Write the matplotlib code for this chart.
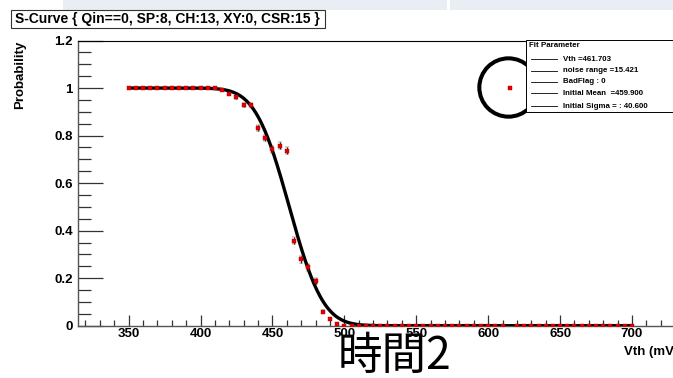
import math
import numpy as np
import matplotlib
matplotlib.use('Agg')
from matplotlib import pyplot as plt
from matplotlib.patches import Rectangle

plt.rcParams['font.family'] = ['Liberation Sans', 'DejaVu Sans']
plt.rcParams['font.weight'] = 'bold'

# threshold scan, 5 mV steps
vth_mv = [350, 355, 360, 365, 370, 375, 380, 385, 390, 395, 400, 405, 410,
          415, 420, 425, 430, 435, 440, 445, 450, 455, 460, 465, 470, 475,
          480, 485, 490, 495, 500, 505, 510, 515, 520, 525, 530, 535, 540,
          545, 550, 555, 560, 565, 570, 575, 580, 585, 590, 595, 600, 605,
          610, 615, 620, 625, 630, 635, 640, 645, 650, 655, 660, 665, 670,
          675, 680, 685, 690, 695, 700]
prob = [1.0] * 13 + [0.99, 0.975, 0.961, 0.928, 0.928, 0.833, 0.791, 0.742,
                     0.757, 0.736, 0.358, 0.279, 0.246, 0.188, 0.059, 0.027,
                     0.007] + [0.0] * 23 + [1.0] + [0.0] * 17
prob_err = [0.003] * 13 + [0.004, 0.005, 0.006, 0.008, 0.008, 0.012, 0.013,
                           0.014, 0.014, 0.014, 0.015, 0.014, 0.014, 0.012,
                           0.007, 0.005, 0.003] + [0.005] * 23 + [0.003] + [0.005] * 17

# fit results
vth_fit = 461.703
noise_range = 15.421
bad_flag = 0
init_mean = 459.900
init_sigma = 40.600

title = 'S-Curve { Qin==0, SP:8, CH:13, XY:0, CSR:15 }'
fit_lines = ['Vth =%.3f' % vth_fit,
             'noise range =%.3f' % noise_range,
             'BadFlag : %d' % bad_flag,
             'Initial Mean  =%.3f' % init_mean,
             'Initial Sigma = : %.3f' % init_sigma]


def main():
    W, H = 673, 378
    fig = plt.figure(figsize=(W / 100, H / 100), dpi=100)
    fig.patch.set_facecolor('white')

    # strip along the top edge
    for x0, x1 in [(63, 446.5), (450, 673)]:
        fig.add_artist(Rectangle((x0 / W, 1 - 10 / H), (x1 - x0) / W, 10 / H,
                                 transform=fig.transFigure, facecolor='#e8eef3',
                                 edgecolor='none'))

    left, right = 78.3, 678.0
    top, bottom = 40.5, 325.7
    ax = fig.add_axes([left / W, 1 - bottom / H, (right - left) / W, (bottom - top) / H])
    ax.set_xlim(315, 732)
    ax.set_ylim(0, 1.2)

    for s in ['top', 'right']:
        ax.spines[s].set_color('black')
        ax.spines[s].set_linewidth(0.8)
    for s in ['left', 'bottom']:
        ax.spines[s].set_color('#555555')
        ax.spines[s].set_linewidth(1.0)

    ax.set_xticks(np.arange(350, 701, 50))
    ax.set_xticks(np.arange(320, 731, 10), minor=True)
    ax.set_yticks(np.arange(0, 1.21, 0.2))
    ax.set_yticks(np.arange(0, 1.21, 0.05), minor=True)
    ax.set_yticklabels(['0', '0.2', '0.4', '0.6', '0.8', '1', '1.2'])
    ax.tick_params(axis='x', which='major', direction='in', length=8, width=0.9,
                   color='#333333', labelsize=9.5, pad=2)
    ax.tick_params(axis='x', which='minor', direction='in', length=4.5, width=0.9,
                   color='#333333')
    ax.tick_params(axis='y', which='major', direction='in', length=18, width=0.9,
                   color='#333333', labelsize=9.5, pad=4)
    ax.tick_params(axis='y', which='minor', direction='in', length=9, width=0.9,
                   color='#333333')
    ax.tick_params(top=False, right=False, which='both')

    # fitted S-curve
    xf = np.linspace(350, 700, 500)
    sigma = 1.2 * noise_range
    yf = [0.5 * math.erfc((v - vth_fit) / (math.sqrt(2) * sigma)) for v in xf]
    ax.plot(xf, yf, color='black', lw=2.4, zorder=3)

    # data points, drawn over the fit
    ax.errorbar(vth_mv, prob, yerr=prob_err, fmt='s', ms=2.2, mfc='#e00000',
                mec='#b00000', mew=0.3, ecolor='#222222', elinewidth=0.8,
                capsize=1.6, capthick=0.8, zorder=4, clip_on=True)

    # the stray point at 615 mV
    ax.plot([613.5], [1.004], marker='o', ms=42, mfc='none', mec='black', mew=2.9,
            zorder=5, clip_on=False)

    # fit parameter box
    bx0 = (526 - left) / (right - left)
    by0 = (bottom - 112.3) / (bottom - top)
    ax.add_patch(Rectangle((bx0, by0), 1.2 - bx0, 1 - by0, transform=ax.transAxes,
                           facecolor='white', edgecolor='black', lw=0.7,
                           zorder=6, clip_on=False))
    ax.text((529 - left) / (right - left), (bottom - 45.5) / (bottom - top),
            'Fit Parameter', transform=ax.transAxes, fontsize=5.7,
            ha='left', va='center', zorder=7)
    rows_y = [59.3, 70.7, 81.7, 93.3, 106.0]
    for ypx, txt in zip(rows_y, fit_lines):
        yy = (bottom - ypx) / (bottom - top)
        ax.plot([(531 - left) / (right - left), (557 - left) / (right - left)], [yy, yy],
                transform=ax.transAxes, color='black', lw=0.6, zorder=7, clip_on=False)
        ax.text((563 - left) / (right - left), yy, txt, transform=ax.transAxes,
                fontsize=5.7, ha='left', va='center', zorder=7)

    # axis titles
    ax.text((20 - left) / (right - left), 1.0, 'Probability', rotation=90,
            transform=ax.transAxes, fontsize=9.5, ha='center', va='top')
    ax.text(1.0, (bottom - 346) / (bottom - top), 'Vth (mV)', transform=ax.transAxes,
            fontsize=9.5, ha='right', va='top')

    # histogram title box
    fig.add_artist(Rectangle((10.7 / W, 1 - 28 / H), (325 - 10.7) / W, 18 / H,
                             transform=fig.transFigure, facecolor='white',
                             edgecolor='#333333', lw=0.8))
    fig.text(15 / W, 1 - 19 / H, title, fontsize=10, ha='left', va='center')

    fig.text(338 / W, 1 - 356 / H, '時間2', fontsize=32, fontweight='normal',
             family=['Noto Sans CJK JP', 'DejaVu Sans'], ha='left', va='center')

    fig.savefig('out.png', dpi=100)


if __name__ == "__main__":
    main()
